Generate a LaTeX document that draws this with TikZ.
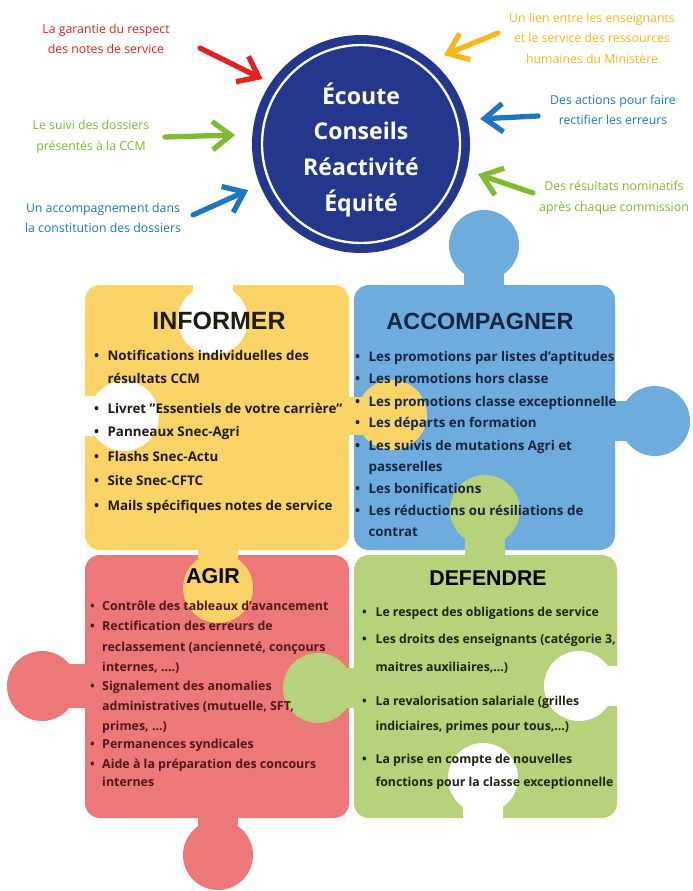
\documentclass[tikz,border=0pt]{standalone}
\usepackage{fontspec}
\setmainfont{Open Sans}
\newfontfamily\headfont{Liberation Sans}
\usetikzlibrary{arrows.meta}
\definecolor{navy}{RGB}{36,55,140}
\definecolor{yel}{RGB}{250,212,102}
\definecolor{blu}{RGB}{110,172,222}
\definecolor{rose}{RGB}{236,120,120}
\definecolor{grn}{RGB}{182,210,122}
\definecolor{redink}{RGB}{226,34,30}
\definecolor{grnink}{RGB}{128,186,48}
\definecolor{bluink}{RGB}{30,118,192}
\definecolor{orgink}{RGB}{246,184,26}
\definecolor{infink}{RGB}{32,26,16}
\definecolor{accink}{RGB}{22,36,62}
\definecolor{agink}{RGB}{82,22,26}
\definecolor{defink}{RGB}{26,36,16}
\tikzstyle{note}=[align=center,font=\fontsize{10.5}{17.5}\selectfont]
\tikzstyle{brush}=[line width=4.5pt,line cap=round,line join=round,
-{Straight Barb[length=5.5mm,width=8.5mm]}]
\tikzstyle{hub}=[circle,fill=navy,minimum size=65.4mm,inner sep=0pt,
outer sep=0pt]
\tikzstyle{hubtext}=[text=white,align=center,
font=\bfseries\fontsize{19.7}{30.7}\selectfont]
\tikzstyle{ring}=[draw=white,line width=2pt]
\tikzstyle{heading}=[inner sep=0pt,font=\headfont\bfseries\fontsize{19}{20}\selectfont]
\tikzstyle{item}=[anchor=mid west,inner sep=0pt,
font=\bfseries\fontsize{11.4}{12}\selectfont]

\begin{document}
\begin{tikzpicture}[x=0.3mm,y=-0.3mm]
	\fill[white] (0,0) rectangle (693,891);
	\useasboundingbox (0,0) rectangle (693,891);
	
	% puzzle pieces
	\fill[yel,rounded corners=4.5mm] (85,285) rectangle (349,550);
	\fill[blu,rounded corners=4.5mm] (354,285) rectangle (615,550);
	\fill[rose,rounded corners=4.5mm] (85,555) rectangle (349,818);
	\fill[grn,rounded corners=4.5mm] (354,555) rectangle (617,818);
	
	% knobs, then the holes
	\foreach \c/\cx/\cy/\ax/\ay/\bx/\by in {
		blu/484/245/464/265/504/290, blu/655/421/610/401/630/441,
		yel/392/415/344/397/370/435, yel/218/588/198/545/238/570,
		grn/485/510/465/530/505/560, grn/318/688/340/668/358/708,
		rose/42/686/60/664/90/708, rose/218/855/198/813/238/835,
		white/213/320/193/280/233/300, white/124/416/80/396/100/436,
		white/579/686/600/666/622/706, white/483/778/463/800/503/823}
	{
		\fill[\c] (\cx,\cy) circle[radius=35];
		\fill[\c] (\ax,\ay) rectangle (\bx,\by);
	}
	
	% centre
	\node[hub] (hub) at (361,144) {};
	\draw[ring] (hub.center) circle[radius=99];
	\node[hubtext] (values) at (361,150) {Écoute\\Conseils\\Réactivité\\Équité};
	
	\node[note,text=redink] (garantie) at (106,39)
	{La garantie du respect\\des notes de service};
	\node[note,text=grnink] (suivi) at (91,137)
	{Le suivi des dossiers\\présentés à la CCM};
	\node[note,text=bluink] (accomp) at (103,218)
	{Un accompagnement dans\\la constitution des dossiers};
	\node[note,text=orgink] (lien) at (592,38)
	{Un lien entre les enseignants\\et le service des ressources\\humaines du Ministère};
	\node[note,text=bluink] (actions) at (613,110)
	{Des actions pour faire\\rectifier les erreurs};
	\node[note,text=grnink] (resultats) at (614,198)
	{Des résultats nominatifs\\après chaque commission};
	
	\coordinate (garantieT) at (200,48);
	\coordinate (suiviT) at (165,137);
	\coordinate (accompT) at (193,215);
	\coordinate (lienT) at (498,33);
	\coordinate (actionsT) at (538,116);
	\coordinate (resultatsT) at (533,193);
	
	\draw[brush,redink,shorten >=2.7mm] (garantieT) -- (hub.146);
	\draw[brush,grnink,shorten >=5.2mm] (suiviT) -- (hub.175);
	\draw[brush,bluink,shorten >=3.9mm] (accompT) -- (hub.202);
	\draw[brush,orgink,shorten >=4.2mm] (lienT) -- (hub.50);
	\draw[brush,bluink,shorten >=3.9mm] (actionsT) -- (hub.13);
	\draw[brush,grnink,shorten >=3.6mm] (resultatsT) -- (hub.346);
	
	% titles
	\node[heading,text=infink,font=\headfont\bfseries\fontsize{21.3}{22}\selectfont]
	(informer) at (219,321) {INFORMER};
	\node[heading,text=accink,font=\headfont\bfseries\fontsize{20}{22}\selectfont]
	(accompagner) at (480,321) {ACCOMPAGNER};
	\node[heading,text=black,font=\headfont\bfseries\fontsize{18.3}{20}\selectfont]
	(agir) at (213,576) {AGIR};
	\node[heading,text=black,font=\headfont\bfseries\fontsize{18.2}{20}\selectfont]
	(defendre) at (488,578) {DEFENDRE};
	
	% lists
	\foreach \y/\bul/\txt [count=\i] in {
		357/\textbullet/{Notifications individuelles des},
		380/{}/{résultats CCM},
		410/\textbullet/{Livret "Essentiels de votre carrière"},
		433/\textbullet/{Panneaux Snec-Agri},
		458/\textbullet/{Flashs Snec-Actu},
		482/\textbullet/{Site Snec-CFTC},
		507/\textbullet/{Mails spécifiques notes de service}}
	\node[item,text=infink] (inf\i) at (94,\y) {\makebox[4mm][l]{\bul}\txt};
	
	\foreach \y/\bul/\txt [count=\i] in {
		358/\textbullet/{Les promotions par listes d'aptitudes},
		380/\textbullet/{Les promotions hors classe},
		403/\textbullet/{Les promotions classe exceptionnelle},
		424/\textbullet/{Les départs en formation},
		447/\textbullet/{Les suivis de mutations Agri et},
		468/{}/{passerelles},
		490/\textbullet/{Les bonifications},
		512/\textbullet/{Les réductions ou résiliations de},
		533/{}/{contrat}}
	\node[item,text=accink] (acc\i) at (355,\y) {\makebox[4mm][l]{\bul}\txt};
	
	\foreach \y/\bul/\txt [count=\i] in {
		607/\textbullet/{Contrôle des tableaux d'avancement},
		627/\textbullet/{Rectification des erreurs de},
		648/{}/{reclassement (ancienneté, conçours},
		668/{}/{internes, ....)},
		687/\textbullet/{Signalement des anomalies},
		707/{}/{administratives (mutuelle, SFT,},
		727/{}/{primes, ...)},
		745/\textbullet/{Permanences syndicales},
		765/\textbullet/{Aide à la préparation des concours},
		783/{}/{internes}}
	\node[item,text=agink,font=\bfseries\fontsize{10.6}{11}\selectfont]
	(agir\i) at (90,\y) {\makebox[3.6mm][l]{\bul}\txt};
	
	\foreach \y/\bul/\txt [count=\i] in {
		613/\textbullet/{Le respect des obligations de service},
		640/\textbullet/{Les droits des enseignants (catégorie 3,},
		668/{}/{maitres auxiliaires,...)},
		702/\textbullet/{La revalorisation salariale (grilles},
		727/{}/{indiciaires, primes pour tous,...)},
		760/\textbullet/{La prise en compte de nouvelles},
		783/{}/{fonctions pour la classe exceptionnelle}}
	\node[item,text=defink,font=\bfseries\fontsize{10.5}{11}\selectfont]
	(def\i) at (362,\y) {\makebox[4mm][l]{\bul}\txt};
	
\end{tikzpicture}
\end{document}
